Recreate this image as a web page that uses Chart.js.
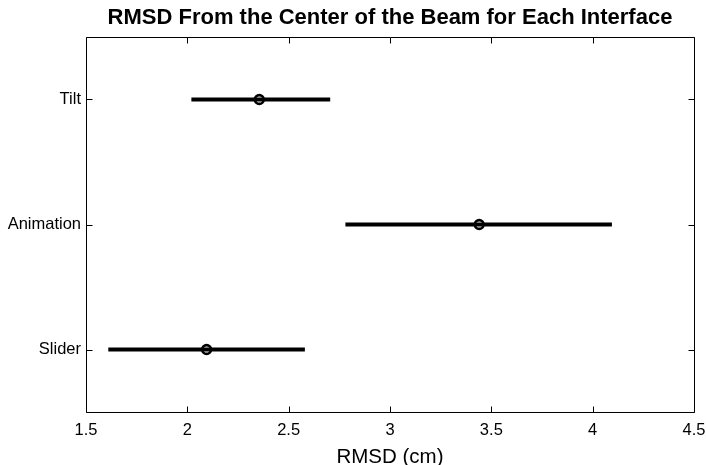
<!DOCTYPE html>
<html>
<head>
<meta charset="utf-8">
<script src="https://cdn.jsdelivr.net/npm/chart.js@4/dist/chart.umd.min.js"></script>
<style>
html,body{margin:0;padding:0;background:#fff;}
#wrap{width:706px;height:465px;position:relative;}
</style>
</head>
<body>
<div id="wrap"><canvas id="c" width="706" height="465"></canvas></div>
<script>
const categories = ['Slider', 'Animation', 'Tilt'];
const means = [2.095, 3.44, 2.355];
const lower = [1.61, 2.78, 2.02];
const upper = [2.58, 4.095, 2.705];
const xTicks = [1.5, 2, 2.5, 3, 3.5, 4, 4.5];
const yTicks = [1, 2, 3];
const chartTitle = 'RMSD From the Center of the Beam for Each Interface';
const xTitle = 'RMSD (cm)';

const FONT = '"Liberation Sans", Arial, Helvetica, sans-serif';

const datasets = [];
categories.forEach((c, i) => {
  datasets.push({
    type: 'line',
    label: c + ' range',
    data: [{x: lower[i], y: i + 1}, {x: upper[i], y: i + 1}],
    borderColor: '#000',
    borderWidth: 4,
    pointRadius: 0,
    fill: false,
    order: 2
  });
});
datasets.push({
  type: 'scatter',
  label: 'Mean',
  data: categories.map((c, i) => ({x: means[i], y: i + 1})),
  borderColor: '#000',
  backgroundColor: 'rgba(0,0,0,0)',
  borderWidth: 2.6,
  pointRadius: 4.4,
  order: 1
});

const boxPlugin = {
  id: 'box',
  afterDraw(chart) {
    const {ctx, chartArea: a, scales} = chart;
    const L = Math.round(a.left) + 0.5, R = Math.round(a.right) + 0.5;
    const T = Math.round(a.top) + 0.5, B = Math.round(a.bottom) + 0.5;
    ctx.save();
    ctx.strokeStyle = '#000';
    ctx.lineWidth = 1;
    ctx.beginPath();
    ctx.rect(L, T, R - L, B - T);
    const tl = 6;
    scales.x.ticks.forEach(t => {
      const px = Math.round(scales.x.getPixelForValue(t.value)) + 0.5;
      ctx.moveTo(px, B); ctx.lineTo(px, B - tl);
      ctx.moveTo(px, T); ctx.lineTo(px, T + tl);
    });
    scales.y.ticks.forEach(t => {
      const py = Math.round(scales.y.getPixelForValue(t.value)) + 0.5;
      ctx.moveTo(L, py); ctx.lineTo(L + tl, py);
      ctx.moveTo(R, py); ctx.lineTo(R - tl, py);
    });
    ctx.stroke();
    // title centred over the plot area
    ctx.fillStyle = '#000';
    ctx.textAlign = 'center';
    ctx.textBaseline = 'middle';
    ctx.font = 'bold 22px ' + FONT;
    ctx.fillText(chartTitle, (a.left + a.right) / 2, 18);
    ctx.restore();
  }
};

new Chart(document.getElementById('c'), {
  data: {datasets},
  options: {
    responsive: false,
    animation: false,
    layout: {padding: {left: 0, right: 12, top: 37, bottom: 0}},
    plugins: {
      legend: {display: false},
      tooltip: {enabled: false},
      title: {display: false}
    },
    scales: {
      x: {
        type: 'linear',
        position: 'bottom',
        min: 1.5, max: 4.5,
        afterBuildTicks(s) { s.ticks = xTicks.map(v => ({value: v})); },
        afterFit(s) { s.height = 53; s.paddingLeft = 0; s.paddingRight = 0; },
        grid: {display: false, drawTicks: false},
        border: {display: false},
        ticks: {
          color: '#000',
          font: {family: FONT, size: 16.5},
          padding: 9,
          maxRotation: 0,
          callback: v => String(v)
        },
        title: {
          display: true,
          text: xTitle,
          color: '#000',
          font: {family: FONT, size: 20.5, lineHeight: 1.0},
          padding: {top: 0, bottom: -2.5}
        }
      },
      y: {
        type: 'linear',
        position: 'left',
        min: 0.5, max: 3.5,
        afterBuildTicks(s) { s.ticks = yTicks.map(v => ({value: v})); },
        afterFit(s) { s.width = 86; s.paddingTop = 0; s.paddingBottom = 0; },
        grid: {display: false, drawTicks: false},
        border: {display: false},
        ticks: {
          color: '#000',
          font: {family: FONT, size: 16.5},
          padding: 5,
          callback: v => categories[v - 1]
        }
      }
    }
  },
  plugins: [boxPlugin]
});
</script>
</body>
</html>
